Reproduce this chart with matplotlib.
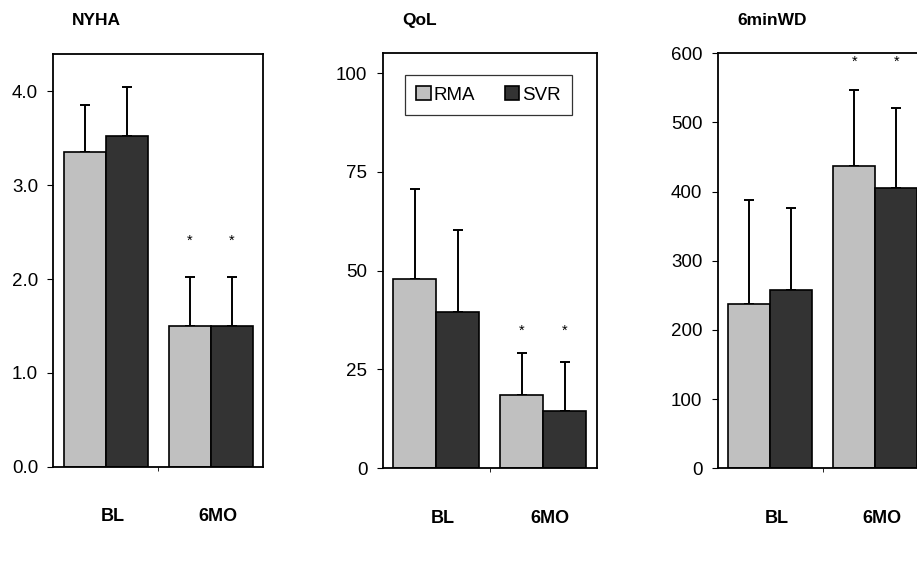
import numpy as np
import matplotlib
matplotlib.use("Agg")
import matplotlib.pyplot as plt
import matplotlib.transforms as mtransforms

plt.rcParams['font.family'] = ['Liberation Sans', 'DejaVu Sans']

# Данные
categories = ["BL", "6MO"]
groups = ["RMA", "SVR"]

nyha_rma = [3.36, 1.50]
nyha_svr = [3.53, 1.50]
nyha_rma_sd = [0.50, 0.52]
nyha_svr_sd = [0.52, 0.52]

qol_rma = [47.8, 18.5]
qol_svr = [39.5, 14.4]
qol_rma_sd = [22.8, 10.8]
qol_svr_sd = [20.7, 12.5]

walk_rma = [237, 437]
walk_svr = [258, 405]
walk_rma_sd = [151, 110]
walk_svr_sd = [119, 116]

# звёздочки только для 6MO
nyha_star = 2.41
qol_star = 34.8
walk_star = 588

panels = [
    ("NYHA", nyha_rma, nyha_svr, nyha_rma_sd, nyha_svr_sd, nyha_star,
     (0, 4.4), [0, 1, 2, 3, 4], ["0.0", "1.0", "2.0", "3.0", "4.0"]),
    ("QoL", qol_rma, qol_svr, qol_rma_sd, qol_svr_sd, qol_star,
     (0, 105), [0, 25, 50, 75, 100], ["0", "25", "50", "75", "100"]),
    ("6minWD", walk_rma, walk_svr, walk_rma_sd, walk_svr_sd, walk_star,
     (0, 600), [0, 100, 200, 300, 400, 500, 600],
     ["0", "100", "200", "300", "400", "500", "600"]),
]

positions = [
    [0.0583, 0.1855, 0.2285, 0.7203],
    [0.4173, 0.1827, 0.2334, 0.7243],
    [0.7827, 0.1827, 0.2290, 0.7243],
]
title_x = [0.105, 0.458, 0.842]

light = "#C0C0C0"
dark = "#333333"
w = 0.4

fig = plt.figure(figsize=(9.17, 5.73), dpi=100)

for i, (name, rma, svr, rma_sd, svr_sd, star, ylim, yt, ytl) in enumerate(panels):
    ax = fig.add_axes(positions[i])
    x = np.arange(len(categories))
    ax.bar(x - w / 2, rma, w, color=light, edgecolor="black", linewidth=1.2, label=groups[0], zorder=2)
    ax.bar(x + w / 2, svr, w, color=dark, edgecolor="black", linewidth=1.2, label=groups[1], zorder=2)
    ax.errorbar(x - w / 2, rma, yerr=[np.zeros(len(rma)), rma_sd], fmt="none",
                ecolor="black", elinewidth=1.4, capsize=3.5, capthick=1.4, zorder=1)
    ax.errorbar(x + w / 2, svr, yerr=[np.zeros(len(svr)), svr_sd], fmt="none",
                ecolor="black", elinewidth=1.4, capsize=3.5, capthick=1.4, zorder=1)

    # звёздочки над 6MO
    for xs in [1 - w / 2, 1 + w / 2]:
        ax.text(xs, star, "*", ha="center", va="center", fontsize=10.5)

    ax.set_xlim(-0.5, 1.5)
    ax.set_ylim(*ylim)
    ax.set_yticks(yt)
    ax.set_yticklabels(ytl, fontsize=13.5)
    ax.set_xticks(x)
    ax.set_xticklabels(categories, fontsize=13, fontweight="bold")
    ax.set_xticks([0.5], minor=True)
    ax.tick_params(axis="x", which="major", length=0, pad=30)
    ax.tick_params(axis="x", which="minor", length=3, direction="out")
    ax.tick_params(axis="y", length=4, direction="out", pad=7)
    shift = mtransforms.ScaledTranslation(7 / 100, 0, fig.dpi_scale_trans)
    for lbl in ax.get_xticklabels():
        lbl.set_transform(lbl.get_transform() + shift)
    for sp in ax.spines.values():
        sp.set_linewidth(1.3)

    fig.text(title_x[i], 0.964, name, ha="center", va="center", fontsize=12.5, fontweight="bold")

    if name == "QoL":
        leg = ax.legend(loc="upper center", bbox_to_anchor=(0.494, 0.948), ncol=2,
                        fontsize=13.5, frameon=True, fancybox=False, edgecolor="black",
                        handlelength=0.75, handleheight=0.75, handletextpad=0.15,
                        columnspacing=1.6, borderpad=0.6, borderaxespad=0)
        leg.get_frame().set_linewidth(0.9)

fig.savefig("out.png", dpi=100)
